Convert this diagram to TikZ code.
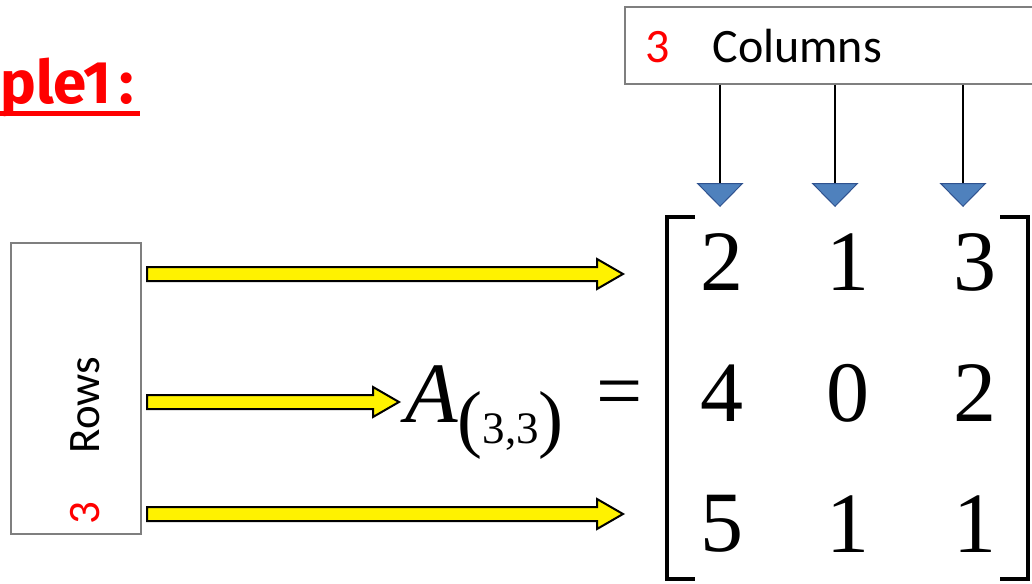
\documentclass[tikz,border=0pt]{standalone}
\usepackage{fontspec}
\setmainfont{Liberation Serif}
\newfontfamily\timesfont{Liberation Serif}
\newfontfamily\calibfont{Carlito}
\newfontfamily\titlefont{Fira Sans}
\usetikzlibrary{arrows.meta,calc}
\definecolor{tipblue}{HTML}{4F81BD}
\definecolor{tipline}{HTML}{2F528F}
\definecolor{boxgray}{HTML}{7F7F7F}

\begin{document}
\begin{tikzpicture}[x=1pt, y=-1pt,
    box/.style={rectangle, draw=boxgray, line width=1.5pt, inner sep=0pt},
    colarrow/.style={-{Triangle[width=47pt,length=24pt,fill=tipblue,color=tipline,line width=1pt]}, line width=2pt, black},
    rowarrow/.style={draw=black, line width=2pt, fill=yellow, to path={let \p1=(\tikztostart), \p2=(\tikztotarget) in
        (\x1,\y1+7pt) -- (\x2-26pt,\y1+7pt) -- (\x2-26pt,\y1+15pt) -- (\x2,\y1) -- (\x2-26pt,\y1-15pt) -- (\x2-26pt,\y1-7pt) -- (\x1,\y1-7pt) -- cycle}},
    entry/.style={font=\timesfont\fontsize{86}{86}\selectfont, inner sep=0pt},
    bracket/.style={line width=4pt, black}
]
\useasboundingbox (0,0) rectangle (1032,583);
\clip (0,0) rectangle (1032,583);

% Title
\node[anchor=base west, inner sep=0pt, text=red, font=\titlefont\bfseries\fontsize{60}{60}\selectfont] (title) at (0,103) {ple1\hspace{8pt}:};
\draw[red, line width=5pt] ([yshift=-11pt]title.base west) -- ([xshift=6pt,yshift=-11pt]title.base east);

% Columns box
\node[box, minimum width=420pt, minimum height=77pt] (cols) at (835,45.5) {};
\node[anchor=base west, inner sep=0pt, font=\calibfont\fontsize{48}{48}\selectfont] (colslabel) at (645,63) {\textcolor{red}{3}\hspace{43pt}Columns};

% Rows box
\node[box, minimum width=130pt, minimum height=291pt] (rows) at (76,388.5) {};
\node[rotate=90, inner sep=0pt, font=\calibfont\fontsize{45}{45}\selectfont] (rowslabel) at (85,405) {Rows};
\node[rotate=90, inner sep=0pt, text=red, font=\calibfont\fontsize{45}{45}\selectfont] (rowsnum) at (85,513) {3};

% Left-hand side
\node[anchor=base west, inner sep=0pt, font=\timesfont\fontsize{86}{86}\selectfont] (lhs) at (405,422)
    {\itshape A\upshape\raisebox{-21pt}{\fontsize{75}{75}\selectfont(\fontsize{45}{45}\selectfont 3,3\fontsize{75}{75}\selectfont)}};
\node[inner sep=0pt, font=\timesfont\fontsize{82}{82}\selectfont] (eq) at (620,400) {=};

% Matrix entries
\foreach \a/\b/\c/\y [count=\r] in {2/1/3/262, 4/0/2/393, 5/1/1/524} {
    \node[entry] (m-\r-1) at (722,\y) {\a};
    \node[entry] (m-\r-2) at (848,\y) {\b};
    \node[entry] (m-\r-3) at (975,\y) {\c};
}
\draw[bracket] ($(m-1-1.center)+(-27,-45)$) -- ++(-28,0) -- ($(m-3-1.center)+(-55,55)$) -- ++(28,0);
\draw[bracket] ($(m-1-3.center)+(25,-45)$) -- ++(28,0) -- ($(m-3-3.center)+(53,55)$) -- ++(-28,0);

% Column arrows
\foreach \cx [count=\i] in {720,835,963} {
    \coordinate (ct\i) at (\cx,207);
    \draw[colarrow] (cols.south -| ct\i) -- (ct\i);
}

% Row arrows
\coordinate (t1) at (147,274);
\coordinate (h1) at (623,274);
\coordinate (t2) at (147,402);
\coordinate (h2) at (399,402);
\coordinate (t3) at (147,514);
\coordinate (h3) at (623,514);
\path[rowarrow] (t1) to (h1);
\path[rowarrow] (t2) to (h2);
\path[rowarrow] (t3) to (h3);

\end{tikzpicture}
\end{document}
